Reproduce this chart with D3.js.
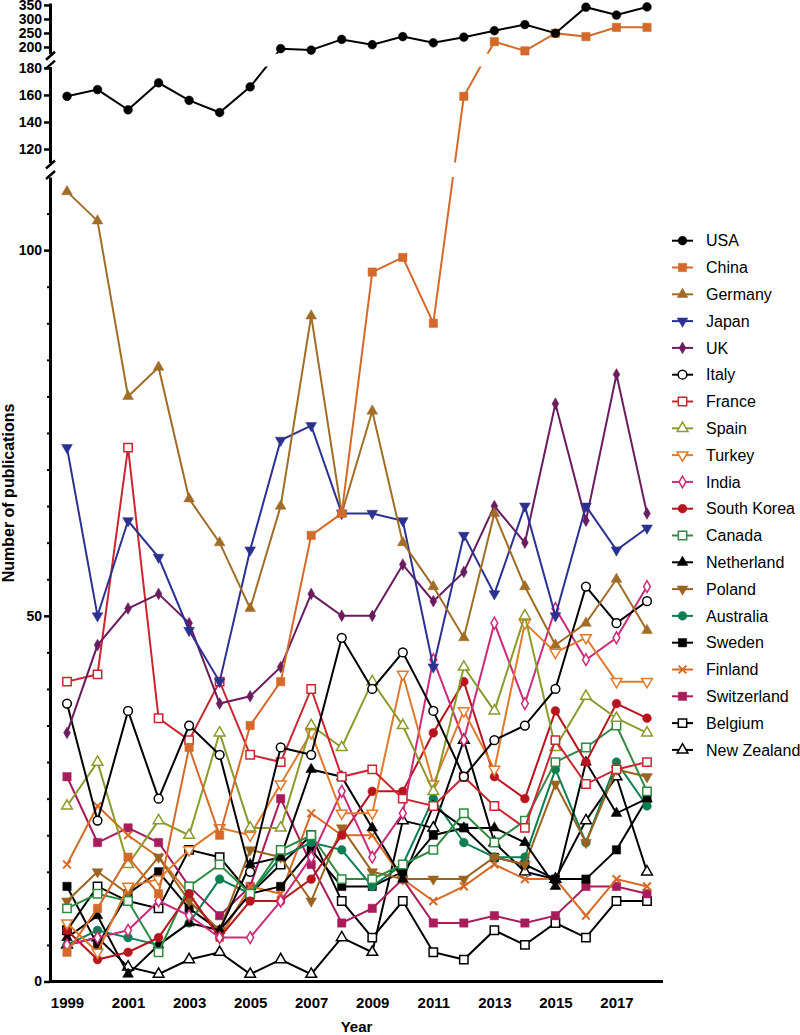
<!DOCTYPE html>
<html>
<head>
<meta charset="utf-8">
<script src="https://cdn.jsdelivr.net/npm/d3@7"></script>
<style>
  body { margin: 0; background: #fff; }
  svg { font-family: Arial, "Liberation Sans", sans-serif; }
</style>
</head>
<body>
<svg id="chart"></svg>
<script>
const width = 800;
const height = 1035;

// data
const years = d3.range(1999, 2019);
const xTickYears = [1999, 2001, 2003, 2005, 2007, 2009, 2011, 2013, 2015, 2017];

const usa         = [159,164,149,169,156,147,166,194,189,227,208,237,215,235,258,280,249,342,314,343];
const china       = [4,10,17,12,32,20,35,41,61,64,97,99,90,159,219,186,249,237,270,270];
const germany     = [108,104,80,84,66,60,51,65,91,64,78,60,54,47,64,54,46,49,55,48];
const japan       = [73,50,63,58,48,41,59,74,76,64,64,63,43,61,53,65,50,65,59,62];
const uk          = [34,46,51,53,49,38,39,43,53,50,50,57,52,56,65,60,79,63,83,64];
const italy       = [38,22,37,25,35,31,15,32,31,47,40,45,37,28,33,35,40,54,49,52];
const france      = [41,42,73,36,33,41,31,30,40,28,29,25,24,28,24,21,33,27,29,30];
const spain       = [24,30,16,22,20,34,21,21,35,32,41,35,26,43,37,50,32,39,36,34];
const turkey      = [8,4,13,14,18,21,20,27,34,23,23,42,27,37,29,49,45,47,41,41];
const india       = [5,6,7,11,9,6,6,11,17,26,17,23,44,33,49,38,51,44,47,54];
const southKorea  = [7,3,4,6,12,6,11,11,14,20,26,26,34,41,28,25,37,30,38,36];
const canada      = [10,12,11,4,13,16,12,18,20,14,14,16,18,23,19,22,30,32,35,26];
const netherland  = [6,9,1,5,8,7,16,17,29,28,21,14,24,21,21,19,13,30,23,25];
const poland      = [11,15,12,17,11,7,18,17,11,21,15,14,14,14,17,16,27,19,29,28];
const australia   = [5,7,6,5,8,14,12,17,19,18,13,16,25,19,17,17,29,19,30,24];
const sweden      = [13,5,12,15,10,7,12,13,18,13,13,15,20,21,17,16,14,14,18,25];
const finland     = [16,24,20,17,12,6,13,12,23,20,20,14,11,13,16,14,14,9,14,13];
const switzerland = [28,19,21,19,13,9,13,25,16,8,10,14,8,8,9,8,9,13,13,12];
const belgium     = [7,13,11,10,18,17,12,16,20,11,6,11,4,3,7,5,8,6,11,11];
const newZealand  = [5,6,2,1,3,4,1,3,1,6,4,22,21,33,19,15,14,22,28,15];

const countries = ["USA","China","Germany","Japan","UK","Italy","France","Spain","Turkey","India",
  "South Korea","Canada","Netherland","Poland","Australia","Sweden","Finland","Switzerland","Belgium","New Zealand"];
const values = [usa, china, germany, japan, uk, italy, france, spain, turkey, india,
  southKorea, canada, netherland, poland, australia, sweden, finland, switzerland, belgium, newZealand];

const colors = ["#000000","#d5692a","#a06c26","#2b3190","#6a1c5e","#000000","#cb2630","#8c9a2c","#e07a2c","#cc2b7a",
  "#b8141e","#2e8b40","#000000","#9a6420","#0b7f52","#000000","#d76b25","#a81c5c","#000000","#000000"];
// shape, filled?
const shapes = ["circle","square","up","down","diamond","circle","square","up","down","diamond",
  "circle","square","up","down","circle","square","x","square","square","up"];
const filled = [true,true,true,true,true,false,false,false,false,false,
  true,false,true,true,true,true,false,true,false,false];

const series = countries.map((name, i) => ({
  name, color: colors[i], shape: shapes[i], filled: filled[i],
  points: years.map((yr, j) => ({ year: yr, value: values[i][j] }))
}));

// svg
const svg = d3.select("#chart").attr("width", width).attr("height", height);

// scales : x + broken y axis (3 segments)
const axisX = 50;
const x = d3.scaleLinear().domain([1999, 2018]).range([67, 647]);
const yLow = d3.scaleLinear().domain([0, 110]).range([981.5, 177]);
const yMid = d3.scaleLinear().domain([110, 181]).range([162.5, 66.6]);
const yTop = d3.scaleLinear().domain([176, 357]).range([53.7, 3]);
const yPos = v => v <= 110 ? yLow(v) : (v <= 181 ? yMid(v) : yTop(v));

// clip : lines vanish inside the axis breaks
const clip = svg.append("defs").append("clipPath").attr("id", "bands");
[[0, yTop.range()[0]], [yMid.range()[1], yMid.range()[0]], [yLow.range()[1], 995]].forEach(([a, b]) => {
  clip.append("rect").attr("x", axisX).attr("y", a).attr("width", width - axisX).attr("height", b - a);
});

// y axis segments
function segment(scale, ticks) {
  const g = svg.append("g").attr("transform", `translate(${axisX},0)`)
    .call(d3.axisLeft(scale).tickValues(ticks).tickSize(6).tickPadding(2).tickSizeOuter(0));
  g.select(".domain").attr("stroke-width", 3);
  g.selectAll(".tick line").attr("stroke-width", 2.5);
  g.selectAll(".tick text").attr("font-size", 14).attr("font-weight", "bold").attr("fill", "#000")
    .attr("font-family", "Arial, 'Liberation Sans', sans-serif");
  return g;
}
segment(yLow, [0, 50, 100]);
segment(yMid, [120, 140, 160, 180]);
segment(yTop, [200, 250, 300, 350]);

// minor ticks every 5 on the lower segment
svg.append("g").attr("transform", `translate(${axisX},0)`)
  .call(d3.axisLeft(yLow).tickValues(d3.range(5, 110, 5).filter(d => d % 50 !== 0)).tickSize(3).tickFormat(""))
  .call(g => g.select(".domain").remove())
  .selectAll(".tick line").attr("stroke-width", 2);

// break marks
[yLow.range()[1], yMid.range()[0], yMid.range()[1], yTop.range()[0]].forEach((yy, i) => {
  const off = i % 2 === 0 ? -2 : 2;
  svg.append("line")
    .attr("x1", axisX - 4).attr("y1", yy + off + 4)
    .attr("x2", axisX + 5).attr("y2", yy + off - 4)
    .attr("stroke", "#000").attr("stroke-width", 2.5);
});

// x axis
const xAxis = svg.append("g").attr("transform", `translate(0,${yLow(0)})`)
  .call(d3.axisBottom(x).tickValues(xTickYears).tickFormat(d3.format("d")).tickSize(0).tickPadding(16).tickSizeOuter(0));
xAxis.select(".domain").attr("d", `M${axisX},0H663`).attr("stroke-width", 3);
xAxis.selectAll(".tick text").attr("font-size", 15).attr("font-weight", "bold").attr("fill", "#000")
  .attr("font-family", "Arial, 'Liberation Sans', sans-serif");

// titles
svg.append("text").attr("x", 356.5).attr("y", 1032).attr("text-anchor", "middle")
  .attr("font-size", 15).attr("font-weight", "bold").text("Year");
svg.append("text").attr("transform", "translate(13.5,493) rotate(-90)").attr("text-anchor", "middle")
  .attr("font-size", 16).attr("font-weight", "bold").text("Number of publications");

// marker symbols
const xShape = {
  draw(ctx, size) {
    const r = Math.sqrt(size) / 2;
    ctx.moveTo(-r, -r); ctx.lineTo(r, r);
    ctx.moveTo(r, -r); ctx.lineTo(-r, r);
  }
};
const symType = { circle: d3.symbolCircle, square: d3.symbolSquare, up: d3.symbolTriangle,
  down: d3.symbolTriangle, diamond: d3.symbolDiamond, x: xShape };
const symSize = { circle: 60, square: 70, up: 50, down: 50, diamond: 40, x: 60 };

function drawMarker(sel, s) {
  sel.attr("d", d3.symbol().type(symType[s.shape]).size(symSize[s.shape]))
    .attr("fill", s.shape === "x" ? "none" : (s.filled ? s.color : "#fff"))
    .attr("stroke", s.color)
    .attr("stroke-width", s.shape === "x" ? 2 : (s.filled ? 0.5 : 1.5));
}

const line = d3.line().x(d => x(d.year)).y(d => yPos(d.value));

// draw last series first so USA ends on top
const plot = svg.append("g");
series.slice().reverse().forEach(s => {
  const g = plot.append("g");
  g.append("path").datum(s.points)
    .attr("d", line).attr("fill", "none")
    .attr("stroke", s.color).attr("stroke-width", 2)
    .attr("clip-path", "url(#bands)");
  g.selectAll("path.mk").data(s.points).enter().append("path").attr("class", "mk")
    .attr("transform", d => `translate(${x(d.year)},${yPos(d.value)})` + (s.shape === "down" ? " rotate(180)" : ""))
    .call(drawMarker, s);
});

// legend
const legend = svg.append("g").attr("transform", "translate(672,240.7)");
series.forEach((s, i) => {
  const row = legend.append("g").attr("transform", `translate(0,${i * 26.8})`);
  row.append("line").attr("x1", 0).attr("x2", 21).attr("stroke", s.color).attr("stroke-width", 2);
  row.append("path").attr("transform", `translate(10.5,0)` + (s.shape === "down" ? " rotate(180)" : ""))
    .call(drawMarker, s);
  row.append("text").attr("x", 34).attr("dy", "0.36em").attr("font-size", 16).text(s.name);
});
</script>
</body>
</html>
